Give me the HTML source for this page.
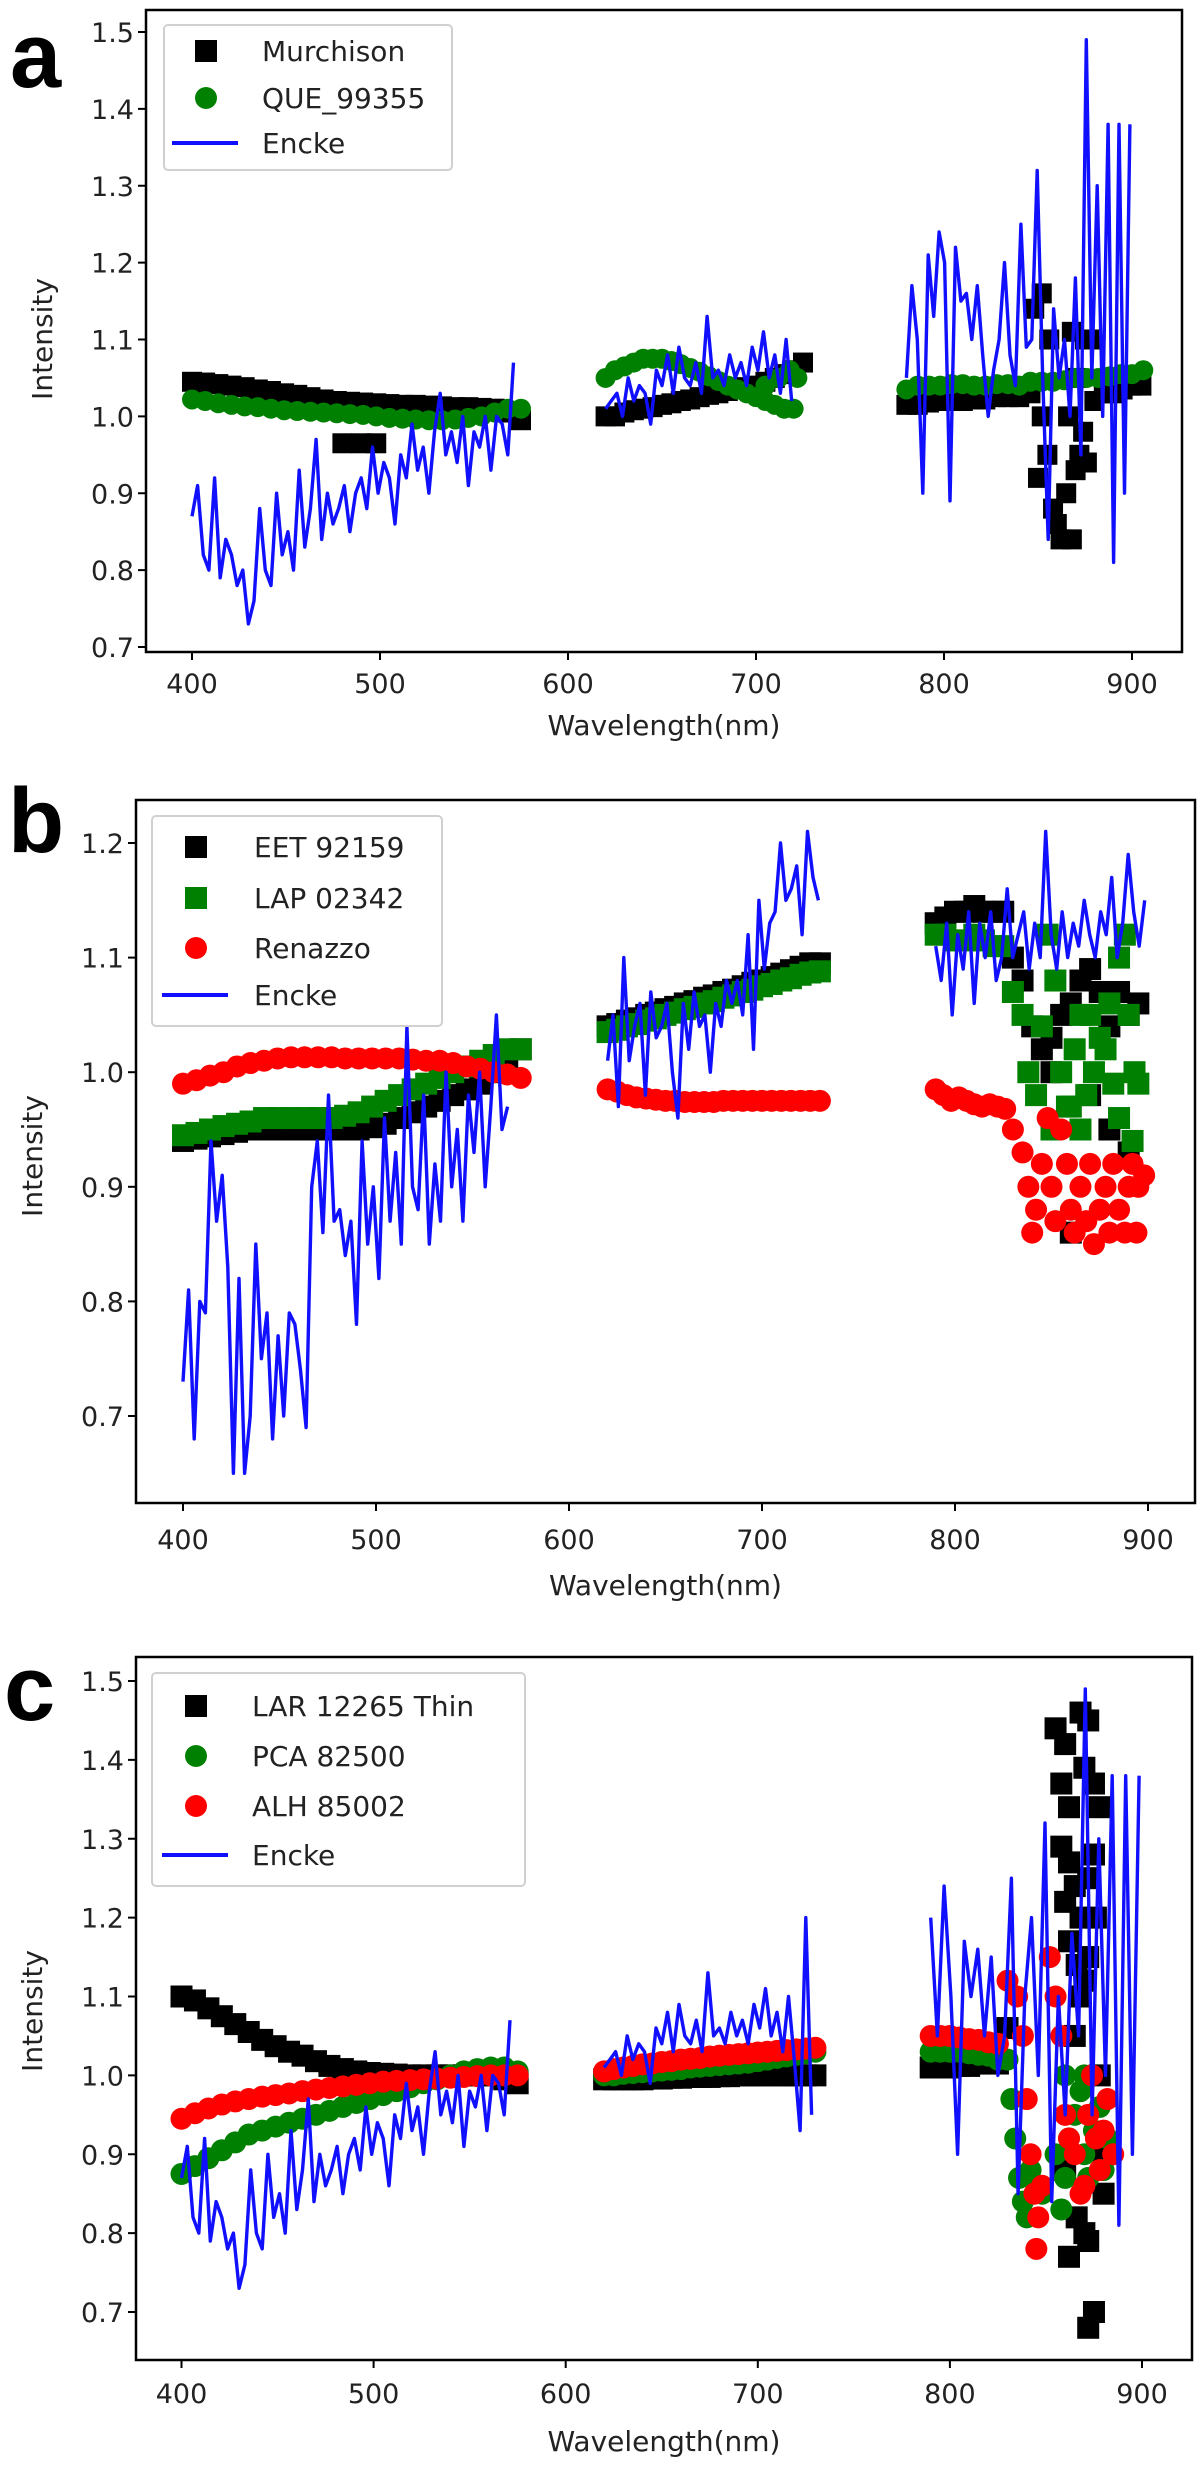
<!DOCTYPE html>
<html><head><meta charset="utf-8">
<style>
html,body{margin:0;padding:0;background:#fff;}
svg{display:block;}
text{font-family:"DejaVu Sans","Liberation Sans",sans-serif;}
</style></head>
<body>
<svg id="fig" width="1200" height="2472" viewBox="0 0 1200 2472" xmlns="http://www.w3.org/2000/svg"></svg>
<script>
// ---------- DATA ----------
const xTicks = [400,500,600,700,800,900];
const yTicksA = [0.7,0.8,0.9,1.0,1.1,1.2,1.3,1.4,1.5];
const yTicksB = [0.7,0.8,0.9,1.0,1.1,1.2];
const yTicksC = [0.7,0.8,0.9,1.0,1.1,1.2,1.3,1.4,1.5];

// Panel a
const murchA_s1 = [1.045,1.044,1.042,1.04,1.038,1.035,1.033,1.03,1.028,1.025,1.022,1.02,1.019,1.018,1.017,1.016,1.015,1.015,1.014,1.013,1.012,1.012,1.011,1.01,1.005,0.995];
const murchA_s2 = [1.0,1.0,1.005,1.008,1.01,1.012,1.015,1.017,1.02,1.022,1.025,1.028,1.03,1.033,1.035,1.038,1.04,1.045,1.05,1.055,1.06,1.07];
const murchA_s3 = [1.015,1.015,1.018,1.02,1.02,1.02,1.022,1.022,1.025,1.025,1.025,1.03];
const murchA_s4 = [1.02,1.03,1.03,1.035,1.04,1.04];
const murchA_pts = [[848,1.14],[852,1.16],[856,1.1],[852,1.0],[855,0.95],[850,0.92],[858,0.88],[860,0.86],[862,0.84],[868,0.84],[865,0.9],[870,0.93],[872,0.95],[866,1.0],[870,1.05],[875,1.1],[868,1.11],[878,1.1],[874,0.98],[876,0.94],[480,0.965],[490,0.965],[498,0.965]];
const queA_s1 = [1.022,1.02,1.017,1.015,1.013,1.012,1.01,1.008,1.007,1.006,1.005,1.004,1.003,1.002,1.0,0.998,0.997,0.996,0.995,0.995,0.996,0.998,1.0,1.005,1.01,1.01];
const queA_s2 = [1.05,1.06,1.065,1.07,1.075,1.075,1.075,1.072,1.068,1.063,1.058,1.052,1.046,1.04,1.035,1.03,1.025,1.02,1.015,1.01,1.01];
const queA_pts = [[705,1.04],[712,1.05],[718,1.06],[722,1.05]];
const queA_s3 = [1.035,1.04,1.04,1.04,1.042,1.042,1.04,1.04,1.042,1.042,1.04,1.045,1.045,1.045,1.047,1.05,1.05,1.05,1.052,1.055,1.055,1.06];
const enckeA_1 = [0.87,0.91,0.82,0.8,0.92,0.79,0.84,0.82,0.78,0.8,0.73,0.76,0.88,0.8,0.78,0.9,0.82,0.85,0.8,0.93,0.83,0.88,0.97,0.84,0.9,0.86,0.88,0.91,0.85,0.9,0.92,0.88,0.96,0.9,0.94,0.92,0.86,0.95,0.92,0.99,0.93,0.96,0.9,0.98,1.03,0.95,0.98,0.94,1.0,0.91,0.98,0.96,1.0,0.93,1.0,0.99,0.95,1.07];
const enckeA_2 = [1.01,1.02,1.03,1.0,1.05,1.02,1.04,1.03,0.99,1.06,1.04,1.08,1.03,1.09,1.05,1.04,1.07,1.03,1.13,1.05,1.06,1.04,1.08,1.05,1.07,1.04,1.09,1.06,1.11,1.05,1.08,1.03,1.1,1.02];
const enckeA_3 = [1.05,1.17,1.1,0.9,1.21,1.13,1.24,1.2,0.89,1.22,1.15,1.16,1.1,1.17,1.08,1.0,1.06,1.1,1.2,1.08,1.04,1.25,1.09,1.1,1.32,1.05,0.84,1.14,1.05,1.1,1.0,1.18,0.95,1.49,1.05,1.3,1.0,1.38,0.81,1.38,0.9,1.38];

// Panel b
const eetB_s1 = [0.94,0.942,0.944,0.946,0.948,0.95,0.95,0.95,0.95,0.95,0.95,0.95,0.95,0.95,0.952,0.955,0.96,0.965,0.97,0.975,0.98,0.985,0.99,1.0,1.01,1.02];
const eetB_s2 = [1.04,1.042,1.045,1.047,1.05,1.052,1.055,1.057,1.06,1.062,1.065,1.067,1.07,1.072,1.075,1.078,1.08,1.083,1.086,1.089,1.092,1.095,1.095];
const eetB_s3 = [1.13,1.135,1.14,1.14,1.145,1.14,1.14,1.14];
const eetB_pts = [[830,1.1],[835,1.08],[840,1.04],[845,1.02],[850,1.03],[855,1.05],[860,1.06],[865,1.08],[870,1.09],[875,1.07],[880,1.04],[885,1.07],[890,1.05],[895,1.06],[880,0.95],[890,0.93],[860,0.86],[870,0.98],[850,1.0]];
const lapB_s1 = [0.945,0.947,0.95,0.953,0.955,0.957,0.96,0.96,0.96,0.96,0.96,0.96,0.962,0.965,0.97,0.975,0.98,0.985,0.99,0.995,1.0,1.005,1.01,1.015,1.02,1.02];
const lapB_s2 = [1.035,1.037,1.04,1.042,1.045,1.047,1.05,1.052,1.055,1.057,1.06,1.062,1.065,1.067,1.07,1.072,1.075,1.077,1.08,1.082,1.085,1.087,1.088];
const lapB_s3 = [1.12,1.12,1.115,1.115,1.12,1.115,1.11,1.11];
const lapB_pts = [[830,1.07],[835,1.05],[838,1.0],[842,0.98],[845,1.04],[848,1.12],[852,1.08],[855,1.0],[858,0.97],[862,1.02],[865,1.05],[868,0.98],[872,1.0],[875,1.03],[878,1.02],[882,0.99],[885,1.1],[888,1.12],[890,1.05],[893,1.0],[895,0.99],[880,1.06],[870,1.05],[860,0.97],[850,0.95],[865,0.95],[892,0.94],[885,0.96]];
const renB_s1 = [0.99,0.993,0.997,1.0,1.005,1.008,1.01,1.012,1.013,1.013,1.013,1.013,1.012,1.012,1.012,1.012,1.012,1.011,1.01,1.01,1.008,1.005,1.003,1.0,0.998,0.995];
const renB_s2 = [0.985,0.983,0.98,0.978,0.977,0.976,0.975,0.975,0.974,0.974,0.974,0.974,0.975,0.975,0.975,0.975,0.975,0.975,0.975,0.975,0.975,0.975,0.975];
const renB_s3 = [0.985,0.98,0.975,0.978,0.975,0.972,0.97,0.972,0.97,0.968];
const renB_pts = [[830,0.95],[835,0.93],[838,0.9],[840,0.86],[842,0.88],[845,0.92],[848,0.96],[850,0.9],[852,0.87],[855,0.95],[858,0.92],[860,0.88],[862,0.86],[865,0.9],[868,0.87],[870,0.92],[872,0.85],[875,0.88],[878,0.9],[880,0.86],[882,0.92],[885,0.88],[888,0.86],[890,0.9],[892,0.92],[895,0.9],[894,0.86],[898,0.91]];
const enckeB_1 = [0.73,0.81,0.68,0.8,0.79,0.94,0.87,0.91,0.83,0.65,0.82,0.65,0.7,0.85,0.75,0.79,0.68,0.77,0.7,0.79,0.78,0.74,0.69,0.9,0.94,0.86,0.98,0.87,0.88,0.84,0.87,0.78,0.94,0.85,0.9,0.82,0.96,0.87,0.93,0.85,1.04,0.9,0.88,0.98,0.85,0.92,0.87,1.0,0.9,0.95,0.87,0.98,0.93,1.0,0.9,0.97,1.05,0.95,0.97];
const enckeB_2 = [1.01,1.05,0.97,1.1,1.01,1.04,1.06,0.98,1.07,1.03,1.04,1.06,1.0,0.96,1.06,1.02,1.07,1.04,1.05,1.0,1.06,1.04,1.08,1.06,1.08,1.05,1.12,1.02,1.15,1.09,1.13,1.14,1.2,1.15,1.16,1.18,1.12,1.21,1.17,1.15];
const enckeB_3 = [1.11,1.08,1.13,1.05,1.12,1.09,1.14,1.06,1.13,1.1,1.14,1.08,1.1,1.16,1.1,1.12,1.14,1.09,1.13,1.1,1.21,1.12,1.09,1.14,1.1,1.13,1.11,1.15,1.12,1.1,1.14,1.12,1.17,1.1,1.13,1.19,1.14,1.11,1.15];

// Panel c
const larC_s1 = [1.1,1.095,1.085,1.075,1.065,1.055,1.045,1.037,1.03,1.025,1.018,1.012,1.008,1.005,1.003,1.002,1.001,1.0,1.0,1.0,1.0,1.0,1.0,1.0,0.995,0.99];
const larC_s2 = [0.995,0.995,0.995,0.995,0.995,0.996,0.996,0.997,0.997,0.998,0.998,0.998,0.999,0.999,1.0,1.0,1.0,1.0,1.0,1.0,1.0,1.0,1.0];
const larC_s3 = [1.01,1.01,1.01,1.012,1.012,1.015,1.015,1.015];
const larC_pts = [[830,1.06],[855,1.44],[860,1.42],[858,1.37],[862,1.34],[858,1.29],[862,1.27],[865,1.24],[860,1.22],[868,1.2],[862,1.17],[866,1.14],[870,1.12],[868,1.46],[872,1.45],[870,1.39],[875,1.37],[878,1.34],[875,1.28],[872,1.25],[876,1.2],[872,1.15],[868,1.1],[860,0.88],[866,0.82],[870,0.8],[862,0.77],[872,0.79],[872,0.68],[875,0.7],[880,0.9],[878,1.0],[880,0.85],[865,1.05]];
const pcaC_s1 = [0.875,0.885,0.895,0.905,0.915,0.925,0.93,0.935,0.94,0.945,0.95,0.955,0.96,0.965,0.97,0.975,0.98,0.985,0.99,0.995,1.0,1.005,1.008,1.01,1.01,1.005];
const pcaC_s2 = [1.0,1.0,1.002,1.003,1.004,1.005,1.006,1.007,1.008,1.01,1.011,1.012,1.013,1.014,1.015,1.016,1.018,1.02,1.022,1.024,1.026,1.028,1.03];
const pcaC_s3 = [1.03,1.03,1.03,1.03,1.028,1.026,1.025,1.02,1.02];
const pcaC_pts = [[832,0.97],[834,0.92],[836,0.87],[838,0.84],[840,0.82],[842,0.88],[845,0.86],[848,0.85],[855,0.9],[858,0.83],[860,0.87],[862,0.92],[865,0.95],[868,0.98],[870,0.9],[872,0.87],[875,0.93],[878,0.96],[880,0.88],[882,0.92],[860,1.0],[870,1.0]];
const alhC_s1 = [0.945,0.952,0.958,0.963,0.967,0.97,0.973,0.975,0.977,0.98,0.982,0.984,0.986,0.988,0.99,0.992,0.993,0.994,0.995,0.996,0.997,0.998,0.999,1.0,1.0,1.0];
const alhC_s2 = [1.005,1.008,1.01,1.012,1.014,1.015,1.017,1.018,1.02,1.021,1.022,1.024,1.025,1.026,1.027,1.028,1.029,1.03,1.031,1.032,1.033,1.034,1.035];
const alhC_s3 = [1.05,1.05,1.05,1.048,1.046,1.045,1.042,1.04];
const alhC_pts = [[830,1.12],[835,1.1],[838,1.05],[840,0.97],[842,0.9],[844,0.85],[846,0.82],[845,0.78],[848,0.86],[852,1.15],[855,1.1],[858,1.05],[860,0.95],[862,0.92],[865,0.9],[868,0.85],[870,0.86],[872,0.95],[874,1.0],[876,0.92],[878,0.88],[880,0.93],[882,0.97],[885,0.9]];
const enckeC_1 = [0.87,0.91,0.82,0.8,0.92,0.79,0.84,0.82,0.78,0.8,0.73,0.76,0.88,0.8,0.78,0.9,0.82,0.85,0.8,0.93,0.83,0.88,0.97,0.84,0.9,0.86,0.88,0.91,0.85,0.9,0.92,0.88,0.96,0.9,0.94,0.92,0.86,0.95,0.92,0.99,0.93,0.96,0.9,0.98,1.03,0.95,0.98,0.94,1.0,0.91,0.98,0.96,1.0,0.93,1.0,0.99,0.95,1.07];
const enckeC_2 = [1.01,1.02,1.03,1.0,1.05,1.02,1.04,1.03,0.99,1.06,1.04,1.08,1.03,1.09,1.05,1.04,1.07,1.03,1.13,1.05,1.06,1.04,1.08,1.05,1.07,1.04,1.09,1.06,1.11,1.05,1.08,1.03,1.1,1.02,0.93,1.2,0.95];
const enckeC_3 = [1.2,1.05,1.24,1.1,0.9,1.17,1.1,1.16,1.05,1.15,1.0,1.05,1.25,0.85,1.1,1.2,1.0,1.32,0.84,1.1,0.95,1.18,1.05,1.49,0.95,1.3,1.0,1.38,0.81,1.38,0.9,1.38];

// ---------- DRAWING ----------
const NS = 'http://www.w3.org/2000/svg';
const svg = document.getElementById('fig');
function mk(tag, attrs, parent){
  const e = document.createElementNS(NS, tag);
  for (const k in attrs) e.setAttribute(k, attrs[k]);
  (parent||svg).appendChild(e);
  return e;
}
const COLORS = {black:'#000000', green:'#008000', red:'#ff0000', blue:'#1010ff'};

function panel(cfg){
  const g = mk('g', {});
  
  
  const sx = v => cfg.x0px + (v - 400) * (cfg.x1px - cfg.x0px) / 500;
  const sy = v => cfg.yLoPx + (v - cfg.yLo) * (cfg.yHiPx - cfg.yLoPx) / (cfg.yHi - cfg.yLo);
  const clipId = 'clip' + cfg.id;
  const cp = mk('clipPath', {id: clipId}, g);
  mk('rect', {x: cfg.L, y: cfg.T, width: cfg.R - cfg.L, height: cfg.B - cfg.T}, cp);
  const plot = mk('g', {'clip-path': 'url(#' + clipId + ')'}, g);
  
  
  const ms = cfg.ms;

  function marker(par, x, y, shape, color){
    if (shape === 'sq') return mk('rect', {x: x - ms/2, y: y - ms/2, width: ms, height: ms, fill: color}, par);
    return mk('circle', {cx: x, cy: y, r: ms/2, fill: color}, par);
  }
  cfg.series.forEach(s => {
    const sg = mk('g', {}, plot);
    
    
    if (s.type === 'scatter'){
      s.segs.forEach(sg2 => sg2.y.forEach((v, i) => marker(sg, sx(sg2.x0 + i * sg2.dx), sy(v), s.shape, COLORS[s.color])));
      (s.pts || []).forEach(p => marker(sg, sx(p[0]), sy(p[1]), s.shape, COLORS[s.color]));
    } else {
      s.segs.forEach(sg2 => {
        const d = sg2.y.map((v, i) => (i ? 'L' : 'M') + sx(sg2.x0 + i * sg2.dx).toFixed(1) + ' ' + sy(v).toFixed(1)).join(' ');
        const p = mk('path', {d: d, fill: 'none', stroke: COLORS.blue, 'stroke-width': 3.4, 'stroke-linejoin': 'round'}, sg);
        
        
      });
    }
  });

  const fr = mk('rect', {x: cfg.L, y: cfg.T, width: cfg.R - cfg.L, height: cfg.B - cfg.T, fill: 'none', stroke: '#000', 'stroke-width': 2.5}, g);
  
  

  xTicks.forEach(t => {
    const x = sx(t);
    mk('line', {x1: x, x2: x, y1: cfg.B, y2: cfg.B + 8, stroke: '#000', 'stroke-width': 2}, g);
    const tx = mk('text', {x: x, y: cfg.xTickY + 10, 'font-size': 27, 'text-anchor': 'middle', fill: '#222'}, g);
    tx.textContent = t;
    
    
  });
  cfg.yTicks.forEach(t => {
    const y = sy(t);
    mk('line', {x1: cfg.L - 8, x2: cfg.L, y1: y, y2: y, stroke: '#000', 'stroke-width': 2}, g);
    const tx = mk('text', {x: cfg.L - 12, y: y + 10, 'font-size': 27, 'text-anchor': 'end', fill: '#222'}, g);
    tx.textContent = t.toFixed(1);
    
    
  });
  const xl = mk('text', {x: (cfg.L + cfg.R) / 2, y: cfg.xLabelY + 10, 'font-size': 28, 'text-anchor': 'middle', fill: '#222'}, g);
  xl.textContent = 'Wavelength(nm)';
  
  
  const yl = mk('text', {x: 0, y: 0, 'font-size': 28, 'text-anchor': 'middle', fill: '#222', transform: 'translate(' + (cfg.yLabelX + 10) + ',' + cfg.yLabelY + ') rotate(-90)'}, g);
  yl.textContent = 'Intensity';
  
  
  const pl = mk('text', {x: cfg.labX, y: cfg.labY, 'font-size': 92, 'font-weight': 'bold', fill: '#000', style: 'font-family:"Liberation Sans",sans-serif'}, g);
  pl.textContent = cfg.id;
  
  

  const lg = mk('g', {}, g);
  
  
  mk('rect', {x: cfg.leg.x, y: cfg.leg.y, width: cfg.leg.w, height: cfg.leg.h, rx: 4, fill: '#fff', 'fill-opacity': 0.85, stroke: '#d0d0d0', 'stroke-width': 2}, lg);
  cfg.series.forEach((s, i) => {
    const y = cfg.leg.rows[i];
    const eg = mk('g', {}, lg);
    
    
    const mx = cfg.leg.mx;
    if (s.type === 'line') mk('line', {x1: mx - 34, x2: mx + 32, y1: y, y2: y, stroke: COLORS.blue, 'stroke-width': 4}, eg);
    else if (s.shape === 'sq') mk('rect', {x: mx - 11, y: y - 11, width: 22, height: 22, fill: COLORS[s.color]}, eg);
    else mk('circle', {cx: mx, cy: y, r: 11, fill: COLORS[s.color]}, eg);
    const t = mk('text', {x: cfg.leg.tx, y: y + 10, 'font-size': 28, fill: '#222', 'xml:space': 'preserve'}, eg);
    t.textContent = s.name;
  });
}

panel({id:'a', L:146, R:1182, T:10, B:652, x0px:192, x1px:1132, yLo:0.7, yHi:1.5, yLoPx:647, yHiPx:32,
  yTicks:yTicksA, ms:20, xTickY:683, xLabelY:725, yLabelX:42, yLabelY:339, labX:10, labY:87,
  leg:{x:164, y:25, w:288, h:145, rows:[51,98,143], mx:206, tx:262},
  series:[
    {name:'Murchison', type:'scatter', shape:'sq', color:'black', segs:[{x0:400,dx:7,y:murchA_s1},{x0:620,dx:5,y:murchA_s2},{x0:780,dx:6,y:murchA_s3},{x0:880,dx:5,y:murchA_s4}], pts:murchA_pts},
    {name:'QUE_99355', type:'scatter', shape:'ci', color:'green', segs:[{x0:400,dx:7,y:queA_s1},{x0:620,dx:5,y:queA_s2},{x0:780,dx:6,y:queA_s3}], pts:queA_pts},
    {name:'Encke', type:'line', segs:[{x0:400,dx:3,y:enckeA_1},{x0:620,dx:3,y:enckeA_2},{x0:780,dx:2.9,y:enckeA_3}]}
  ]});

panel({id:'b', L:136, R:1195, T:800, B:1503, x0px:183, x1px:1148, yLo:0.7, yHi:1.2, yLoPx:1416, yHiPx:843,
  yTicks:yTicksB, ms:22, xTickY:1539, xLabelY:1585, yLabelX:32, yLabelY:1156, labX:8, labY:852,
  leg:{x:152, y:816, w:290, h:210, rows:[847,898,948,995], mx:196, tx:254},
  series:[
    {name:'EET  92159', type:'scatter', shape:'sq', color:'black', segs:[{x0:400,dx:7,y:eetB_s1},{x0:620,dx:5,y:eetB_s2},{x0:790,dx:5,y:eetB_s3}], pts:eetB_pts},
    {name:'LAP  02342', type:'scatter', shape:'sq', color:'green', segs:[{x0:400,dx:7,y:lapB_s1},{x0:620,dx:5,y:lapB_s2},{x0:790,dx:5,y:lapB_s3}], pts:lapB_pts},
    {name:'Renazzo', type:'scatter', shape:'ci', color:'red', segs:[{x0:400,dx:7,y:renB_s1},{x0:620,dx:5,y:renB_s2},{x0:790,dx:4,y:renB_s3}], pts:renB_pts},
    {name:'Encke', type:'line', segs:[{x0:400,dx:2.9,y:enckeB_1},{x0:620,dx:2.8,y:enckeB_2},{x0:790,dx:2.85,y:enckeB_3}]}
  ]});

panel({id:'c', L:136, R:1192, T:1657, B:2360, x0px:181.5, x1px:1142, yLo:0.7, yHi:1.5, yLoPx:2312, yHiPx:1681,
  yTicks:yTicksC, ms:22, xTickY:2393, xLabelY:2441, yLabelX:32, yLabelY:2011, labX:4, labY:1720,
  leg:{x:152, y:1673, w:373, h:213, rows:[1706,1756,1806,1855], mx:196, tx:252},
  series:[
    {name:'LAR  12265  Thin', type:'scatter', shape:'sq', color:'black', segs:[{x0:400,dx:7,y:larC_s1},{x0:620,dx:5,y:larC_s2},{x0:790,dx:5,y:larC_s3}], pts:larC_pts},
    {name:'PCA  82500', type:'scatter', shape:'ci', color:'green', segs:[{x0:400,dx:7,y:pcaC_s1},{x0:620,dx:5,y:pcaC_s2},{x0:790,dx:5,y:pcaC_s3}], pts:pcaC_pts},
    {name:'ALH  85002', type:'scatter', shape:'ci', color:'red', segs:[{x0:400,dx:7,y:alhC_s1},{x0:620,dx:5,y:alhC_s2},{x0:790,dx:5,y:alhC_s3}], pts:alhC_pts},
    {name:'Encke', type:'line', segs:[{x0:400,dx:3,y:enckeC_1},{x0:620,dx:3,y:enckeC_2},{x0:790,dx:3.5,y:enckeC_3}]}
  ]});
</script>
</body></html>
